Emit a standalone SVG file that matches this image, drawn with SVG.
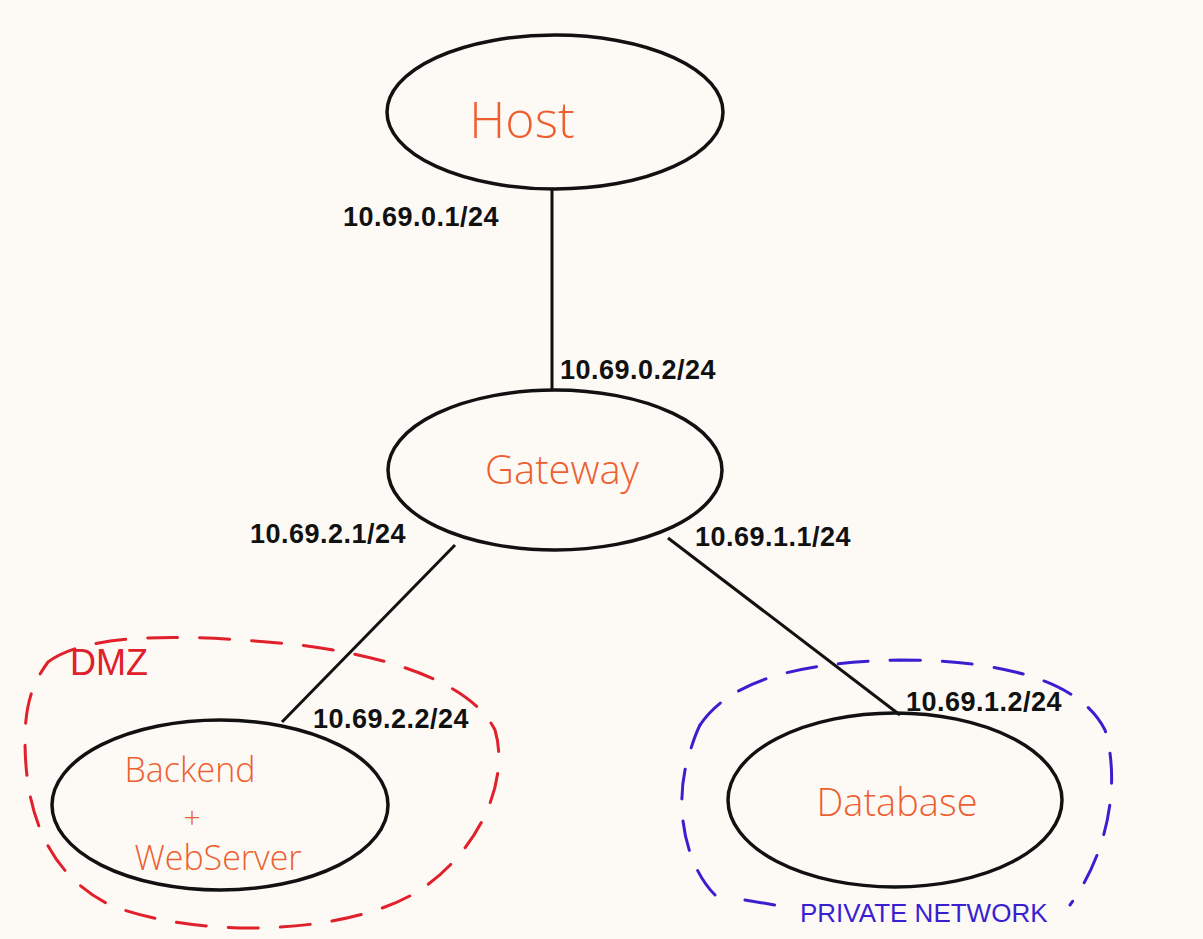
<svg xmlns="http://www.w3.org/2000/svg" width="1203" height="939" viewBox="0 0 1203 939">
<style>
.node{fill:none;stroke:#111;stroke-width:3.5}
.name{fill:#ee5f30;font-family:"Open Sans","Liberation Sans",sans-serif;font-weight:300;text-anchor:middle}
.ip{fill:#111;font-family:"Liberation Sans",sans-serif;font-size:27px;font-weight:bold;letter-spacing:0.5px}
.edge{stroke:#111;stroke-width:3;fill:none}
.dmz{fill:none;stroke:#e0202a;stroke-width:3;stroke-dasharray:30 22;stroke-linecap:round}
.priv{fill:none;stroke:#3a1fd0;stroke-width:3;stroke-dasharray:30 22;stroke-linecap:round}
</style>
<rect width="1203" height="939" fill="#fdfaf6"/>
<g id="zones">
<path class="dmz" d="M48,662 C90,630 200,635 300,645 C380,655 470,680 495,730 C510,780 480,850 420,890 C350,935 200,940 110,905 C40,870 25,800 25,740 C25,700 35,680 48,662"/>
<text x="70" y="675" fill="#e0202a" font-family="Liberation Sans,sans-serif" font-size="36">DMZ</text>
<path class="priv" d="M700,725 C730,680 800,662 900,660 C1000,660 1080,680 1105,730 C1120,780 1110,850 1070,905"/>
<path class="priv" d="M715,895 C690,870 675,820 685,770 C690,750 695,735 700,725"/>
<line class="priv" x1="745" y1="900" x2="775" y2="905"/>
<text x="800" y="922" fill="#3a1fd0" font-family="Liberation Sans,sans-serif" font-size="26">PRIVATE NETWORK</text>
</g>
<g id="connectors">
<line class="edge" x1="552" y1="190" x2="552" y2="390"/>
<line class="edge" x1="455" y1="545" x2="282" y2="722"/>
<line class="edge" x1="668" y1="538" x2="900" y2="715"/>
<text class="ip" x="343" y="226">10.69.0.1/24</text>
<text class="ip" x="560" y="379">10.69.0.2/24</text>
<text class="ip" x="250" y="543">10.69.2.1/24</text>
<text class="ip" x="695" y="546">10.69.1.1/24</text>
<text class="ip" x="313" y="728">10.69.2.2/24</text>
<text class="ip" x="906" y="711">10.69.1.2/24</text>
</g>
<g id="host">
<ellipse class="node" cx="555" cy="112" rx="168" ry="77"/>
<text class="name" x="522" y="138" font-size="50">Host</text>
</g>
<g id="gateway">
<ellipse class="node" cx="555" cy="470" rx="167" ry="80"/>
<text class="name" x="562" y="484" font-size="40">Gateway</text>
</g>
<g id="backend">
<ellipse class="node" cx="220" cy="805" rx="168" ry="85"/>
<text class="name" x="190" y="782" font-size="34">Backend</text>
<text class="name" x="192" y="828" font-size="30">+</text>
<text class="name" x="218" y="870" font-size="34">WebServer</text>
</g>
<g id="database">
<ellipse class="node" cx="895" cy="800" rx="167" ry="87"/>
<text class="name" x="897" y="816" font-size="38">Database</text>
</g>
</svg>
